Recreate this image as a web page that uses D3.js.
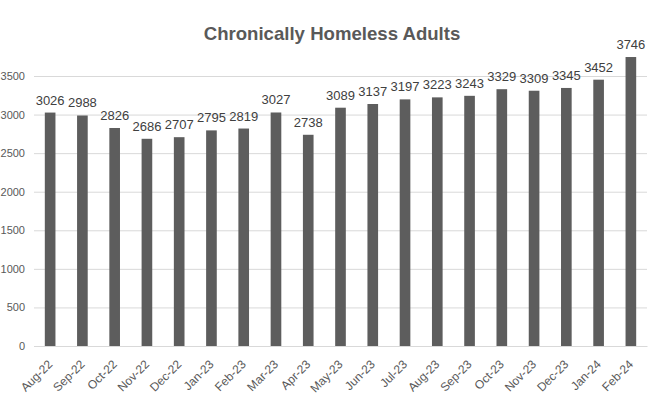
<!DOCTYPE html>
<html><head><meta charset="utf-8">
<script src="https://cdn.jsdelivr.net/npm/d3@7"></script>
<style>body{margin:0;background:#fff;}svg{display:block;font-family:"Liberation Sans",Arial,sans-serif;}</style>
</head><body><svg id="c" width="652" height="399"></svg>
<script>
const categories = ["Aug-22","Sep-22","Oct-22","Nov-22","Dec-22","Jan-23","Feb-23","Mar-23","Apr-23","May-23","Jun-23","Jul-23","Aug-23","Sep-23","Oct-23","Nov-23","Dec-23","Jan-24","Feb-24"];
const values = [3026,2988,2826,2686,2707,2795,2819,3027,2738,3089,3137,3197,3223,3243,3329,3309,3345,3452,3746];
const yTicks = [0,500,1000,1500,2000,2500,3000,3500];
const title = "Chronically Homeless Adults";

const svg = d3.select("#c");
const m = {left:34, right:5, top:76, bottom:53};
const W = 652, H = 399;
const x = d3.scaleBand().domain(categories).range([m.left, W-m.right]).paddingInner(0.67).paddingOuter(0.335);
const y = d3.scaleLinear().domain([0,3500]).range([H-m.bottom, m.top]);

svg.append("text").attr("x",332).attr("y",40).attr("text-anchor","middle")
  .attr("font-size",18.6).attr("font-weight","bold").attr("fill","#595959").text(title);

const ya = svg.append("g").attr("transform",`translate(${m.left},0)`)
  .call(d3.axisLeft(y).tickValues(yTicks).tickSize(-(W-m.left-m.right)).tickPadding(9).tickFormat(d3.format("d")));
ya.select(".domain").remove();
ya.selectAll(".tick line").attr("stroke","#d9d9d9").attr("stroke-width",1);
ya.selectAll(".tick text").attr("fill","#595959").attr("font-size",11).attr("font-family","Liberation Sans, Arial, sans-serif");

svg.append("g").selectAll("rect").data(values).join("rect")
  .attr("x",(d,i)=>x(categories[i])).attr("width",x.bandwidth())
  .attr("y",d=>y(d)).attr("height",d=>y(0)-y(d)).attr("fill","#5d5d5d");

svg.append("g").selectAll("text").data(values).join("text")
  .attr("x",(d,i)=>x(categories[i])+x.bandwidth()/2).attr("y",d=>y(d)-8)
  .attr("text-anchor","middle").attr("font-size",13).attr("fill","#404040").text(d=>d);

const xa = svg.append("g").attr("transform",`translate(0,${H-m.bottom})`)
  .call(d3.axisBottom(x).tickSize(0).tickPadding(0));
xa.select(".domain").attr("stroke","#d9d9d9");
xa.selectAll(".tick text").attr("fill","#595959").attr("font-size",12).attr("font-family","Liberation Sans, Arial, sans-serif")
  .attr("text-anchor","end").attr("dy",null).attr("y",0)
  .attr("transform","translate(3,19) rotate(-45)");
</script></body></html>
